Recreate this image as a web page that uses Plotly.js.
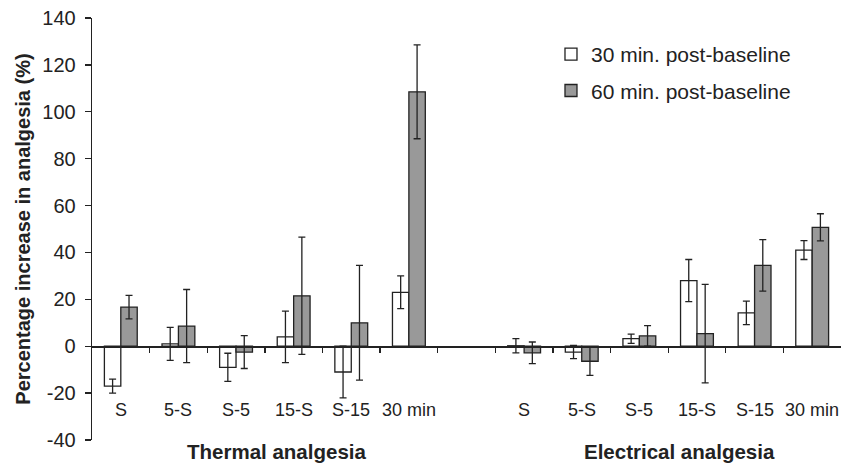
<!DOCTYPE html>
<html>
<head>
<meta charset="utf-8">
<script src="https://cdn.plot.ly/plotly-3.0.1.min.js"></script>
<style>html,body{margin:0;padding:0;background:#fff;}#chart{width:841px;height:465px;}</style>
</head>
<body>
<div id="chart"></div>
<script>
// ---- data ----
const categories = ['S', '5-S', 'S-5', '15-S', 'S-15', '30 min'];
const groups = ['Thermal analgesia', 'Electrical analgesia'];
const seriesNames = ['30 min. post-baseline', '60 min. post-baseline'];

const thermal30 = [-17, 1, -9, 4, -11, 23];
const thermal30Err = [3, 7, 6, 11, 11, 7];
const thermal60 = [16.7, 8.6, -2.5, 21.5, 10, 108.5];
const thermal60Err = [5, 15.6, 7, 25, 24.5, 20];

const electrical30 = [0.2, -2.5, 3.2, 28, 14.2, 41];
const electrical30Err = [3, 2.8, 2, 9, 5, 4];
const electrical60 = [-2.8, -6.4, 4.4, 5.4, 34.5, 50.7];
const electrical60Err = [4.6, 6, 4.4, 21, 11, 5.8];

const yTicks = [-40, -20, 0, 20, 40, 60, 80, 100, 120, 140];
const yTickText = ['-40', '-20', '0', '20', '40', '60', '80', '100', '120', '140'];

// ---- layout helpers ----
const n = categories.length;
const gap = 1; // empty slot between the two groups
const xThermal = categories.map((_, i) => i);
const xElectrical = categories.map((_, i) => i + n + gap);
const xAll = xThermal.concat(xElectrical);
const nSlots = 2 * n + gap;
const labels = categories.concat(categories);

const ink = '#222';
const fontFam = '"Liberation Sans", Arial, sans-serif';

function barTrace(name, vals, errs, fill, group) {
  return {
    type: 'bar',
    name: name,
    x: xAll,
    y: vals,
    legendgroup: group,
    marker: {color: fill, line: {color: ink, width: 1.3}},
    error_y: {type: 'data', array: errs, visible: true, color: ink, thickness: 1.3, width: 3.5},
    hoverinfo: 'x+y'
  };
}

const traces = [
  barTrace(seriesNames[0], thermal30.concat(electrical30), thermal30Err.concat(electrical30Err), '#ffffff', 'a'),
  barTrace(seriesNames[1], thermal60.concat(electrical60), thermal60Err.concat(electrical60Err), '#999999', 'b')
];

const yMin = yTicks[0], yMax = yTicks[yTicks.length - 1];
const zeroFrac = (0 - yMin) / (yMax - yMin);

const annotations = [];
xAll.forEach((x, i) => {
  annotations.push({
    x: x, y: -27, xref: 'x', yref: 'y', text: labels[i], showarrow: false,
    font: {size: 18, color: ink, family: fontFam}, xanchor: 'center', yanchor: 'middle'
  });
});
annotations.push({
  x: 0.2457, y: -0.027, xref: 'paper', yref: 'paper', text: '<b>' + groups[0] + '</b>',
  showarrow: false, font: {size: 20.5, color: ink, family: fontFam}, xanchor: 'center', yanchor: 'middle'
});
annotations.push({
  x: 0.784, y: -0.027, xref: 'paper', yref: 'paper', text: '<b>' + groups[1] + '</b>',
  showarrow: false, font: {size: 20.5, color: ink, family: fontFam}, xanchor: 'center', yanchor: 'middle'
});

const boundaries = [];
for (let i = 0; i < nSlots - 1; i++) boundaries.push(i + 0.5);

const layout = {
  width: 841, height: 465,
  margin: {l: 92, r: 0, t: 18, b: 25},
  paper_bgcolor: '#ffffff', plot_bgcolor: '#ffffff',
  font: {family: fontFam, color: ink, size: 18},
  barmode: 'group',
  bargap: 0.43,
  bargroupgap: 0,
  showlegend: true,
  legend: {
    x: 0.6128, y: 0.962, xanchor: 'left', yanchor: 'top',
    font: {size: 21, color: ink, family: fontFam},
    bgcolor: 'rgba(0,0,0,0)', traceorder: 'grouped', tracegroupgap: 6
  },
  xaxis: {
    range: [-0.5, nSlots - 0.5],
    anchor: 'free', position: zeroFrac,
    showline: true, linecolor: ink, linewidth: 1.3,
    tickmode: 'array', tickvals: boundaries, ticks: 'outside', ticklen: 5, tickcolor: ink, tickwidth: 1.3,
    showticklabels: false, showgrid: false, zeroline: false, fixedrange: true
  },
  yaxis: {
    range: [yMin, yMax],
    tickmode: 'array', tickvals: yTicks, ticktext: yTickText,
    ticks: 'outside', ticklen: 6, tickcolor: ink, tickwidth: 1.3,
    ticklabelstandoff: 5,
    showline: true, linecolor: ink, linewidth: 1.3,
    showgrid: false, zeroline: false,
    tickfont: {size: 20, color: ink, family: fontFam},
    title: {text: '<b>Percentage increase in analgesia (%)</b>', font: {size: 20, color: ink, family: fontFam}, standoff: 6},
    automargin: false
  },
  annotations: annotations
};

Plotly.newPlot('chart', traces, layout, {displayModeBar: false, staticPlot: true});
</script>
</body>
</html>
